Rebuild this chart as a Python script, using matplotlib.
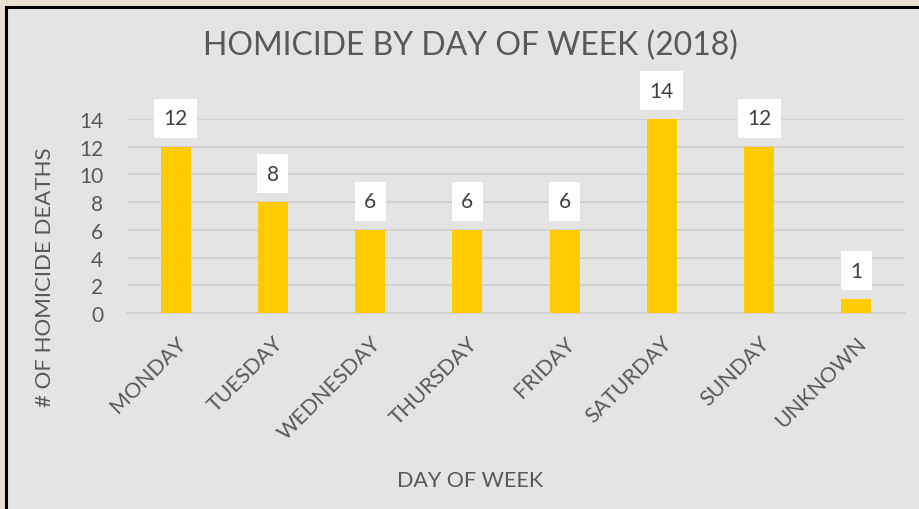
import matplotlib
matplotlib.use("Agg")
import matplotlib.pyplot as plt
from matplotlib.patches import Rectangle

days = ["MONDAY", "TUESDAY", "WEDNESDAY", "THURSDAY", "FRIDAY",
        "SATURDAY", "SUNDAY", "UNKNOWN"]
deaths = [12, 8, 6, 6, 6, 14, 12, 1]
y_ticks = [0, 2, 4, 6, 8, 10, 12, 14]

plt.rcParams['font.family'] = ['Lato', 'DejaVu Sans']
text_color = "#595959"

fig = plt.figure(figsize=(9.2, 5.1), dpi=100)
fig.patch.set_facecolor("#e9dfd0")

# chart panel with black edge, running off the right and bottom
panel = Rectangle((6 / 920, -0.05), 1.0, 1 - 8 / 510 + 0.05,
                  transform=fig.transFigure, facecolor="#e4e4e4",
                  edgecolor="black", linewidth=2.2, zorder=-5)
fig.patches.append(panel)

ax = fig.add_axes([127 / 920, 1 - 314 / 510, 778 / 920, 194 / 510])
ax.set_facecolor("none")
ax.set_zorder(2)

x = range(len(days))
ax.bar(x, deaths, width=0.31, color="#ffcc00", zorder=3)

for xi, v in zip(x, deaths):
    ax.annotate(str(v), (xi, v), xytext=(0, 20.5), textcoords="offset points",
                ha="center", va="center", fontsize=15, color="#404040",
                bbox=dict(boxstyle="square,pad=0.45", facecolor="white",
                          edgecolor="none"),
                annotation_clip=False, zorder=4)

ax.set_xlim(-0.5, len(days) - 0.5)
ax.set_ylim(0, 14)
ax.set_yticks(y_ticks)
ax.yaxis.grid(True, color="#d2d2d2", linewidth=1.5, zorder=0)
ax.set_axisbelow(True)

for s in ["top", "right", "left"]:
    ax.spines[s].set_visible(False)
ax.spines["bottom"].set_color("#d2d2d2")
ax.spines["bottom"].set_linewidth(1.5)

ax.tick_params(axis="y", length=0, colors=text_color, labelsize=15, pad=17)
ax.tick_params(axis="x", length=0, colors=text_color, labelsize=15.5, pad=14)
ax.set_xticks(list(x))
ax.set_xticklabels(days, rotation=45, ha="right", rotation_mode="anchor")

fig.text(470 / 920, 1 - 46 / 510, "HOMICIDE BY DAY OF WEEK (2018)",
         ha="center", va="center", fontsize=23, color=text_color)
fig.text(470 / 920, 1 - 481 / 510, "DAY OF WEEK",
         ha="center", va="center", fontsize=15.5, color=text_color)
fig.text(45 / 920, 1 - 277 / 510, "# OF HOMICIDE DEATHS", rotation=90,
         ha="center", va="center", fontsize=16, color=text_color)

fig.savefig("out.png", dpi=100, facecolor=fig.get_facecolor())
